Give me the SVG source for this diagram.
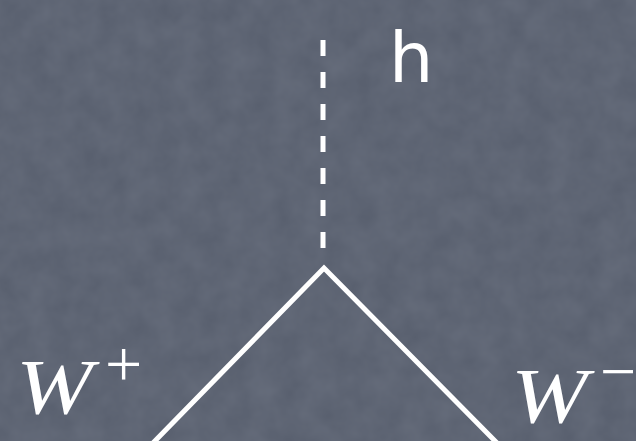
<svg xmlns="http://www.w3.org/2000/svg" width="636" height="441" viewBox="0 0 636 441">
  <defs>
    <filter id="tex" x="0" y="0" width="100%" height="100%">
      <feTurbulence type="fractalNoise" baseFrequency="0.04" numOctaves="3" seed="4" result="n"/>
      <feColorMatrix in="n" type="matrix" values="0 0 0 0 0.40  0 0 0 0 0.43  0 0 0 0 0.50  0 0 0 0.18 0"/>
    </filter>
    <style>
      .line { stroke: #ffffff; stroke-width: 5; fill: none; }
      .dash { stroke-dasharray: 16 16; }
      .math { font-family: "Liberation Serif", serif; font-style: italic; fill: #ffffff; }
      .sym { font-family: "Liberation Serif", serif; fill: #ffffff; }
      .h { font-family: "DejaVu Sans", "Liberation Sans", sans-serif; fill: #ffffff; }
    </style>
  </defs>
  <rect width="636" height="441" fill="#575e6d"/>
  <rect width="636" height="441" filter="url(#tex)"/>
  <g id="connectors">
    <line class="line dash" x1="323" y1="40" x2="323" y2="250"/>
    <polyline class="line" points="152,444 324,268 498,444" stroke-linejoin="miter"/>
  </g>
  <g id="node-h">
    <text class="h" x="389" y="82" font-size="70">h</text>
  </g>
  <g id="node-wplus">
    <text class="math" font-size="78" transform="translate(16,413) scale(1.18,1)">W</text>
    <text class="sym" x="105" y="386" font-size="66">+</text>
  </g>
  <g id="node-wminus">
    <text class="math" font-size="78" transform="translate(511,422) scale(1.18,1)">W</text>
    <text class="sym" x="600" y="393" font-size="64">−</text>
  </g>
</svg>
